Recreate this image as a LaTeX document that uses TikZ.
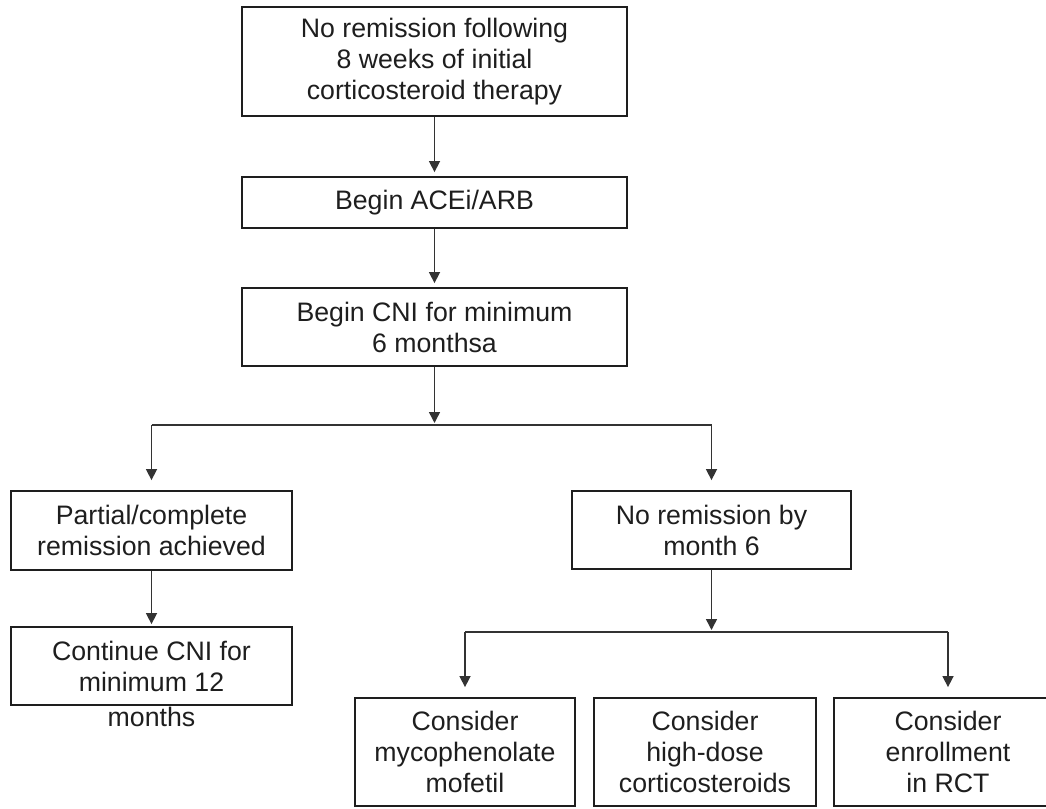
\documentclass[tikz,border=0pt]{standalone}
\usepackage{fontspec}
\setmainfont{Liberation Sans}
\usetikzlibrary{arrows.meta}
\definecolor{ink}{HTML}{1E1E1E}
\definecolor{linec}{HTML}{333333}
\begin{document}
\begin{tikzpicture}[x=1pt,y=-1pt,
  box/.style={draw=ink,line width=1.8pt,rectangle,inner sep=0pt,align=center,
    font=\fontsize{26.7}{31}\selectfont,text=ink},
  lbl/.style={inner sep=0pt,align=center,font=\fontsize{26.7}{31}\selectfont,text=ink},
  conn/.style={draw=linec,line width=1.5pt},
  arr/.style={conn,-{Triangle[width=11pt,length=11pt]}}]
\useasboundingbox (0,0) rectangle (1046,808);
\node[box,minimum width=385pt,minimum height=109pt] (b1) at (434.5,61.5)
  {No remission following\\8 weeks of initial\\corticosteroid therapy};
\node[box,minimum width=385pt,minimum height=51pt] (b2) at (434.5,202.5)
  {Begin ACEi/ARB};
\node[box,minimum width=385pt,minimum height=78pt] (b3) at (434.5,327)
  {Begin CNI for minimum\\6 monthsa};
\node[box,minimum width=281pt,minimum height=79pt] (b4) at (151.5,530.5)
  {Partial/complete\\remission achieved};
\node[box,minimum width=279pt,minimum height=78pt] (b5) at (711.5,530)
  {No remission by\\month 6};
\node[box,minimum width=281pt,minimum height=78pt] (b6) at (151.5,666)
  {Continue CNI for\\minimum 12};
\node[lbl] (b6x) at (151.5,717) {months};
\node[box,minimum width=220pt,minimum height=108pt] (b7) at (465,752)
  {Consider\\mycophenolate\\mofetil};
\node[box,minimum width=222pt,minimum height=108pt] (b8) at (705,752)
  {Consider\\high-dose\\corticosteroids};
\node[box,minimum width=228pt,minimum height=108pt] (b9) at (948,752)
  {Consider\\enrollment\\in RCT};
\coordinate (j1) at (434.5,425);
\coordinate (j2) at (711.5,632);
\draw[arr,shorten >=4pt] (b1.south) -- (b2.north);
\draw[arr,shorten >=4pt] (b2.south) -- (b3.north);
\draw[arr,shorten >=2pt] (b3.south) -- (j1);
\draw[conn] (b4.north |- j1) -- (b5.north |- j1);
\draw[arr,shorten >=10pt] (b4.north |- j1) -- (b4.north);
\draw[arr,shorten >=10pt] (b5.north |- j1) -- (b5.north);
\draw[arr,shorten >=2pt] (b4.south) -- (b6.north);
\draw[arr,shorten >=2pt] (b5.south) -- (j2);
\draw[conn] (b7.north |- j2) -- (b9.north |- j2);
\draw[arr,shorten >=10pt] (b7.north |- j2) -- (b7.north);
\draw[arr,shorten >=10pt] (b9.north |- j2) -- (b9.north);
\end{tikzpicture}
\end{document}
